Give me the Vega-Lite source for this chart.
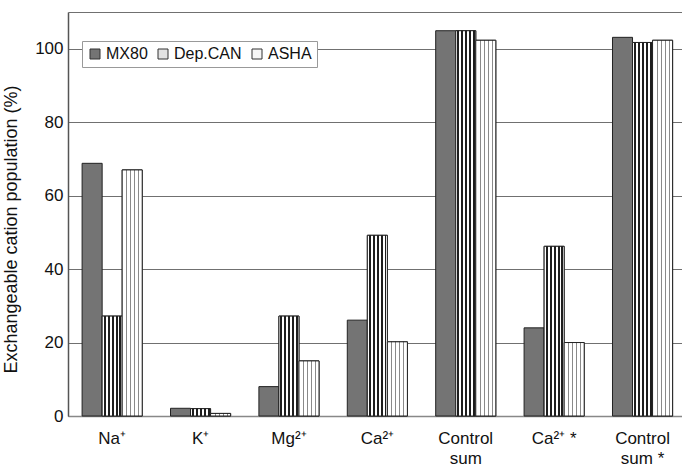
{
  "$schema": "https://vega.github.io/schema/vega-lite/v6.json",
  "width": 614,
  "height": 404,
  "autosize": {"type": "none"},
  "padding": {"left": 68, "top": 12, "right": 0, "bottom": 51},
  "background": "white",
  "config": {
    "font": "Liberation Sans",
    "view": {"stroke": null}
  },
  "data": {
    "values": [
      {"cat": "Na⁺", "series": "MX80", "value": 68.8},
      {"cat": "Na⁺", "series": "Dep.CAN", "value": 27.2},
      {"cat": "Na⁺", "series": "ASHA", "value": 67.0},
      {"cat": "K⁺", "series": "MX80", "value": 2.1},
      {"cat": "K⁺", "series": "Dep.CAN", "value": 2.0},
      {"cat": "K⁺", "series": "ASHA", "value": 0.7},
      {"cat": "Mg²⁺", "series": "MX80", "value": 8.0},
      {"cat": "Mg²⁺", "series": "Dep.CAN", "value": 27.2},
      {"cat": "Mg²⁺", "series": "ASHA", "value": 15.0},
      {"cat": "Ca²⁺", "series": "MX80", "value": 26.1},
      {"cat": "Ca²⁺", "series": "Dep.CAN", "value": 49.2},
      {"cat": "Ca²⁺", "series": "ASHA", "value": 20.2},
      {"cat": "Control|sum", "series": "MX80", "value": 104.9},
      {"cat": "Control|sum", "series": "Dep.CAN", "value": 104.9},
      {"cat": "Control|sum", "series": "ASHA", "value": 102.3},
      {"cat": "Ca²⁺ *", "series": "MX80", "value": 24.0},
      {"cat": "Ca²⁺ *", "series": "Dep.CAN", "value": 46.2},
      {"cat": "Ca²⁺ *", "series": "ASHA", "value": 20.0},
      {"cat": "Control|sum *", "series": "MX80", "value": 103.1},
      {"cat": "Control|sum *", "series": "Dep.CAN", "value": 101.7},
      {"cat": "Control|sum *", "series": "ASHA", "value": 102.3}
    ]
  },
  "encoding": {
    "x": {
      "field": "cat",
      "type": "nominal",
      "sort": ["Na⁺", "K⁺", "Mg²⁺", "Ca²⁺", "Control|sum", "Ca²⁺ *", "Control|sum *"],
      "scale": {"paddingInner": 0.32, "paddingOuter": 0.133, "align": 0.6},
      "axis": {
        "title": null,
        "labelAngle": 0,
        "labelExpr": "split(datum.label, '|')",
        "labelFontSize": 17,
        "labelColor": "#111",
        "labelPadding": 14,
        "labelLineHeight": 20,
        "ticks": false,
        "tickSize": 0,
        "domainColor": "#888",
        "domainWidth": 1.5,
        "grid": false
      }
    },
    "xOffset": {
      "field": "series",
      "type": "nominal",
      "scale": {"domain": ["MX80", "Dep.CAN", "ASHA"], "paddingInner": 0, "paddingOuter": 0}
    },
    "y": {
      "field": "value",
      "type": "quantitative",
      "scale": {"domain": [0, 110], "nice": false, "zero": true},
      "axis": {
        "title": "Exchangeable cation population (%)",
        "titleFontSize": 18,
        "titleFontWeight": "normal",
        "titleColor": "#111",
        "titleX": -48,
        "titleY": 217,
        "titleAngle": -90,
        "titleBaseline": "bottom",
        "titleAlign": "center",
        "values": [0, 20, 40, 60, 80, 100, 110],
        "labelExpr": "datum.value > 100 ? '' : datum.label",
        "labelFontSize": 17,
        "labelColor": "#111",
        "labelPadding": 5,
        "ticks": false,
        "tickSize": 0,
        "domainColor": "#555",
        "domainWidth": 1.5,
        "grid": true,
        "gridColor": "#707070",
        "gridWidth": 1.2
      }
    }
  },
  "layer": [
    {
      "mark": {"type": "bar", "stroke": "#222", "strokeWidth": 1},
      "encoding": {
        "color": {
          "field": "series",
          "type": "nominal",
          "scale": {"domain": ["MX80", "Dep.CAN", "ASHA"], "range": ["#747474", "#e2e2e2", "#f6f6f6"]},
          "legend": {
            "title": null,
            "orient": "none",
            "legendX": 14,
            "legendY": 29,
            "direction": "horizontal",
            "fillColor": "white",
            "strokeColor": "#999",
            "padding": 5,
            "symbolType": "square",
            "symbolSize": 100,
            "symbolStrokeColor": "#333",
            "symbolStrokeWidth": 1,
            "symbolOpacity": 1,
            "labelFontSize": 16,
            "labelColor": "#111",
            "labelOffset": 3,
            "columnPadding": 7
          }
        }
      }
    },
    {
      "transform": [{"filter": "datum.series === 'Dep.CAN'"}],
      "mark": {
        "type": "bar",
        "stroke": "#222",
        "strokeWidth": 1,
        "fill": {
          "gradient": "linear",
          "x1": 0, "y1": 0, "x2": 1, "y2": 0,
          "stops": [
            {"offset": 0, "color": "#ffffff"},
            {"offset": 0.07, "color": "#ffffff"},
            {"offset": 0.07, "color": "#1e1e1e"},
            {"offset": 0.17, "color": "#1e1e1e"},
            {"offset": 0.17, "color": "#ffffff"},
            {"offset": 0.27, "color": "#ffffff"},
            {"offset": 0.27, "color": "#1e1e1e"},
            {"offset": 0.37, "color": "#1e1e1e"},
            {"offset": 0.37, "color": "#ffffff"},
            {"offset": 0.47, "color": "#ffffff"},
            {"offset": 0.47, "color": "#1e1e1e"},
            {"offset": 0.57, "color": "#1e1e1e"},
            {"offset": 0.57, "color": "#ffffff"},
            {"offset": 0.67, "color": "#ffffff"},
            {"offset": 0.67, "color": "#1e1e1e"},
            {"offset": 0.77, "color": "#1e1e1e"},
            {"offset": 0.77, "color": "#ffffff"},
            {"offset": 0.86, "color": "#ffffff"},
            {"offset": 0.86, "color": "#1e1e1e"},
            {"offset": 0.95, "color": "#1e1e1e"},
            {"offset": 0.95, "color": "#ffffff"},
            {"offset": 1, "color": "#ffffff"}
          ]
        }
      }
    },
    {
      "transform": [{"filter": "datum.series === 'ASHA'"}],
      "mark": {
        "type": "bar",
        "stroke": "#222",
        "strokeWidth": 1,
        "fill": {
          "gradient": "linear",
          "x1": 0, "y1": 0, "x2": 1, "y2": 0,
          "stops": [
            {"offset": 0, "color": "#ffffff"},
            {"offset": 0.2, "color": "#ffffff"},
            {"offset": 0.2, "color": "#8a8a8a"},
            {"offset": 0.25, "color": "#8a8a8a"},
            {"offset": 0.25, "color": "#ffffff"},
            {"offset": 0.4, "color": "#ffffff"},
            {"offset": 0.4, "color": "#8a8a8a"},
            {"offset": 0.45, "color": "#8a8a8a"},
            {"offset": 0.45, "color": "#ffffff"},
            {"offset": 0.6, "color": "#ffffff"},
            {"offset": 0.6, "color": "#8a8a8a"},
            {"offset": 0.65, "color": "#8a8a8a"},
            {"offset": 0.65, "color": "#ffffff"},
            {"offset": 0.8, "color": "#ffffff"},
            {"offset": 0.8, "color": "#8a8a8a"},
            {"offset": 0.85, "color": "#8a8a8a"},
            {"offset": 0.85, "color": "#ffffff"},
            {"offset": 1, "color": "#ffffff"}
          ]
        }
      }
    }
  ]
}
